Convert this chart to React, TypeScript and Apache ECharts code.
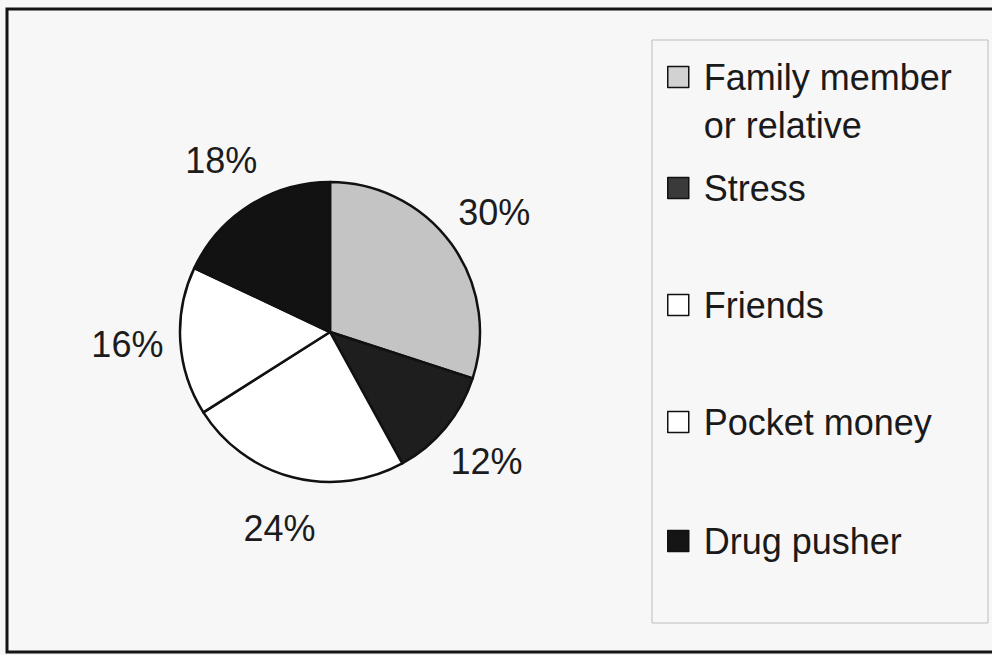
import React, { useEffect, useRef } from "react";
import * as echarts from "echarts";

const categories = [
  "Family member or relative",
  "Stress",
  "Friends",
  "Pocket money",
  "Drug pusher",
];
const legendLabels = [
  "\nFamily member\nor relative",
  "Stress",
  "Friends",
  "Pocket money",
  "Drug pusher",
];
const values = [30, 12, 24, 16, 18];
const sliceColors = ["#c4c4c4", "#1e1e1e", "#ffffff", "#ffffff", "#121212"];
const iconColors = ["#d2d2d2", "#3a3a3a", "#ffffff", "#ffffff", "#151515"];
const legendCenters = [77, 188, 305, 422, 541];

const FONT = "'Liberation Sans', Arial, Helvetica, sans-serif";

export default function App() {
  const ref = useRef<HTMLDivElement>(null);
  useEffect(() => {
    if (!ref.current) return;
    const chart = echarts.init(ref.current, undefined, { renderer: "svg" });
    const data = categories.map((name, i) => ({
      name,
      value: values[i],
      itemStyle: { color: sliceColors[i] },
    }));
    const legends = categories.map((name, i) => {
      const lines = legendLabels[i].split("\n").length;
      return {
        orient: "vertical",
        left: 667,
        top: legendCenters[i] - (lines * 48) / 2,
        padding: 0,
        itemWidth: 21,
        itemHeight: 21,
        selectedMode: false,
        icon: "rect",
        data: [
          {
            name,
            itemStyle: {
              color: iconColors[i],
              borderColor: "#111",
              borderWidth: 1.5,
            },
          },
        ],
        formatter: () => legendLabels[i],
        textStyle: {
          fontFamily: FONT,
          fontSize: 36,
          lineHeight: 48,
          color: "#1a1a1a",
          padding: [0, 0, 0, 10],
        },
      };
    });
    chart.setOption({
      animation: false,
      backgroundColor: "#f7f7f7",
      graphic: [
        {
          type: "rect",
          shape: { x: 7, y: 9, width: 1000, height: 643 },
          style: { fill: "none", stroke: "#151515", lineWidth: 3 },
          z: 100,
        },
        {
          type: "rect",
          shape: { x: 652, y: 40, width: 336, height: 583 },
          style: { fill: "none", stroke: "#bdbdbd", lineWidth: 1 },
        },
      ],
      legend: legends,
      series: [
        {
          type: "pie",
          center: [330, 332],
          radius: 150,
          startAngle: 90,
          clockwise: true,
          silent: true,
          label: { show: false },
          labelLine: { show: false },
          itemStyle: { borderColor: "#111", borderWidth: 2.5 },
          data,
        },
        {
          type: "pie",
          center: [330, 332],
          radius: [180, 220],
          startAngle: 90,
          clockwise: true,
          silent: true,
          itemStyle: { color: "transparent", borderWidth: 0 },
          label: {
            show: true,
            position: "inside",
            formatter: "{c}%",
            fontFamily: FONT,
            fontSize: 36,
            color: "#1c1c1c",
          },
          labelLine: { show: false },
          data: categories.map((name, i) => ({ name, value: values[i] })),
        },
      ],
    });
    return () => chart.dispose();
  }, []);
  return (
    <div
      ref={ref}
      style={{ position: "fixed", left: 0, top: 0, width: 992, height: 655 }}
    />
  );
}
